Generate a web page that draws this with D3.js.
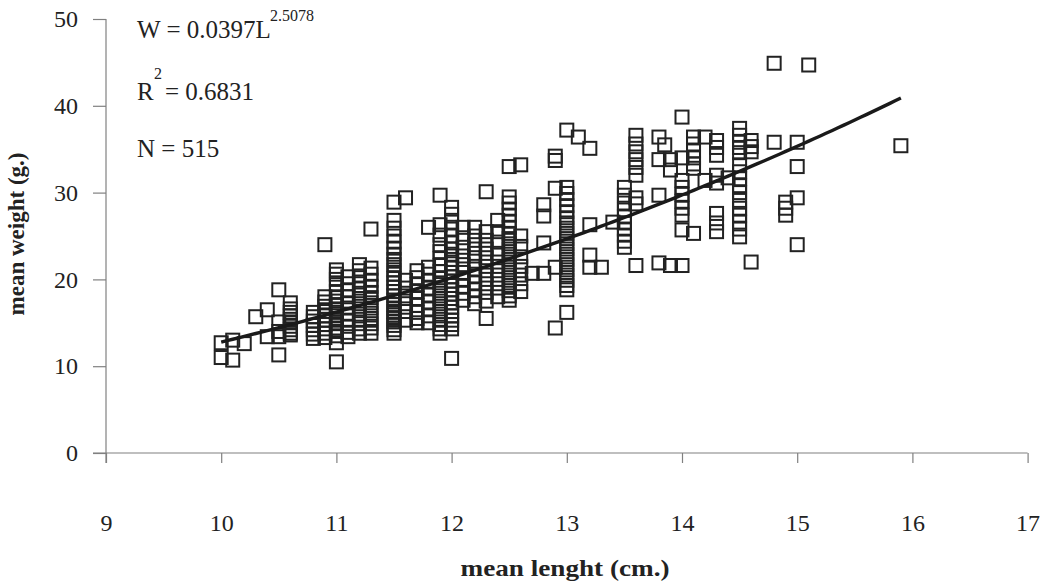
<!DOCTYPE html>
<html><head><meta charset="utf-8">
<script src="https://cdn.jsdelivr.net/npm/d3@7"></script>
<style>body{margin:0;background:#fff}svg{display:block}</style>
</head><body>
<svg id="c" width="1044" height="583"></svg>
<script>
// ---- data ----
const xTicks = [9,10,11,12,13,14,15,16,17];
const yTicks = [0,10,20,30,40,50];
const xTitle = "mean lenght (cm.)";
const yTitle = "mean weight (g.)";
const fitA = 0.0397, fitB = 2.5078, fitR2 = "0.6831", fitN = "515";
const fitRange = [10.0, 15.9];
const lengths = [10.0,10.1,10.2,10.3,10.4,10.5,10.6,10.8,10.9,11.0,11.1,11.2,11.3,11.5,11.6,11.7,11.8,11.9,12.0,12.1,12.2,12.3,12.4,12.5,12.6,12.7,12.8,12.9,13.0,13.1,13.2,13.3,13.4,13.5,13.6,13.8,13.85,13.9,14.0,14.1,14.2,14.3,14.4,14.5,14.6,14.8,14.9,15.0,15.1,15.9];
const weights = [
 [12.7,11.0],
 [13.0,10.7],
 [12.6],
 [15.7],
 [16.5,13.4],
 [18.8,15.1,14.0,13.4,11.3],
 [17.3,16.6,16.2,15.8,15.4,15.0,14.6,14.2,13.8,13.6],
 [16.2,15.7,15.2,14.7,14.2,13.7,13.2],
 [24.0,18.0,17.4,16.9,16.3,15.8,15.3,14.8,14.3,13.8,13.3],
 [21.1,20.6,20.0,19.4,18.6,18.0,17.5,17.0,16.6,16.2,15.8,15.3,14.9,14.4,14.0,13.5,12.7,10.5],
 [20.3,19.5,18.7,18.0,17.3,16.7,16.0,15.3,14.6,13.9,13.4],
 [21.7,21.0,20.4,19.7,19.0,18.4,17.8,17.2,16.6,16.0,15.4,14.9,14.3,13.8],
 [25.8,21.3,20.6,19.9,19.2,18.5,17.9,17.3,16.7,16.1,15.5,14.9,14.4,13.8],
 [28.9,26.8,25.9,25.0,24.3,23.6,22.9,22.3,21.7,21.1,20.6,20.1,19.6,19.1,18.6,18.1,17.6,17.1,16.7,16.3,15.9,15.5,15.1,14.7,14.2,13.8],
 [29.4,19.9,19.0,18.1,17.2,16.3,15.3],
 [21.0,20.2,19.4,18.6,17.8,17.0,16.2,15.5,15.0],
 [26.0,21.4,20.6,19.8,19.0,18.2,17.4,16.6,15.8,15.0],
 [29.7,26.3,25.1,24.0,23.2,22.4,21.6,20.9,20.2,19.6,19.0,18.4,17.8,17.2,16.6,16.0,15.4,14.8,14.3,13.8],
 [28.3,27.5,26.6,25.8,25.0,24.2,23.5,22.9,22.3,21.8,21.3,20.8,20.3,19.8,19.3,18.8,18.3,17.8,17.3,16.8,16.3,15.8,15.3,14.8,14.3,10.9],
 [26.0,24.8,23.7,22.7,21.7,20.8,20.0,19.2,18.4,17.6],
 [26.0,25.0,24.0,23.0,22.1,21.2,20.4,19.6,18.8,18.0,17.2],
 [30.1,25.5,24.5,23.5,22.5,21.5,20.5,19.5,18.5,17.5,15.5],
 [26.8,25.5,24.3,23.0,22.0,21.0,20.0,19.0,18.0],
 [33.0,29.5,28.8,28.1,27.4,26.7,26.0,25.3,24.7,24.1,23.5,22.9,22.3,21.7,21.1,20.5,19.9,19.3,18.7,18.1,17.6],
 [33.2,25.0,23.8,22.6,21.5,20.5,19.5,18.6],
 [20.7],
 [28.6,27.3,24.2,20.7],
 [34.2,33.7,30.5,21.4,14.4],
 [37.2,30.6,29.9,29.2,28.5,27.8,27.1,26.5,25.9,25.3,24.7,24.1,23.5,22.9,22.3,21.7,21.1,20.5,19.9,19.3,18.8,16.2],
 [36.4],
 [35.1,26.3,22.8,21.4],
 [21.4],
 [26.6],
 [30.6,29.7,28.8,28.0,27.2,26.5,25.8,25.1,24.4,23.7],
 [36.6,35.6,34.7,33.8,32.9,32.0,29.4,28.7,21.6],
 [36.4,33.8,29.7,21.9],
 [35.5],
 [33.8,32.6,21.6],
 [38.7,34.0,31.4,30.6,29.8,29.0,28.2,27.4,25.7,21.6],
 [36.4,35.6,34.8,34.0,33.3,32.8,25.3],
 [36.4,31.4],
 [36.0,35.2,34.3,32.0,31.1,27.6,26.5,25.5],
 [31.7],
 [37.4,36.6,35.8,35.2,34.6,33.2,32.4,31.6,30.8,30.0,29.1,28.2,27.4,26.6,25.8,24.9],
 [36.0,35.3,34.7,22.0],
 [35.8,44.9],
 [28.9,28.2,27.4],
 [35.8,33.0,29.4,24.0],
 [44.7],
 [35.4]
];

// ---- drawing ----
const svg = d3.select("#c");
const font = "'Liberation Serif','Times New Roman',serif";
const x = d3.scaleLinear().domain([9,17]).range([106, 1027.6]);
const y = d3.scaleLinear().domain([0,50]).range([453, 19]);
const axisCol = "#808080", txtCol = "#222";

const pts = [];
lengths.forEach((L,i)=>weights[i].forEach(w=>pts.push({L,w})));

// axes
const gy = svg.append("g").attr("transform","translate(106,0)")
  .call(d3.axisLeft(y).tickValues(yTicks).tickSize(13).tickSizeOuter(0).tickPadding(15));
const gx = svg.append("g").attr("transform","translate(0,453)")
  .call(d3.axisBottom(x).tickValues(xTicks).tickSize(10).tickSizeOuter(0).tickPadding(51));
[gx,gy].forEach(g=>{
  g.select(".domain").remove();
  g.selectAll(".tick line").attr("stroke",axisCol).attr("stroke-width",1.2);
  g.selectAll(".tick text").attr("font-family",font).attr("font-size",24).attr("fill",txtCol);
});
svg.append("line").attr("x1",106).attr("x2",106).attr("y1",y(50)).attr("y2",463)
  .attr("stroke",axisCol).attr("stroke-width",1.2);
svg.append("line").attr("x1",93).attr("x2",x(17)).attr("y1",453).attr("y2",453)
  .attr("stroke",axisCol).attr("stroke-width",1.2);

// points
svg.append("g").selectAll("rect").data(pts).join("rect")
  .attr("x",d=>x(d.L)-6.5).attr("y",d=>y(d.w)-6.5)
  .attr("width",13).attr("height",13)
  .attr("fill","none").attr("stroke","#222").attr("stroke-width",2);

// fitted curve from the displayed equation
const curve = d3.range(fitRange[0], fitRange[1]+0.001, 0.05).map(L=>[L, fitA*Math.pow(L,fitB)]);
svg.append("path").datum(curve)
  .attr("d", d3.line().x(d=>x(d[0])).y(d=>y(d[1])))
  .attr("fill","none").attr("stroke","#1a1a1a").attr("stroke-width",3.4);

// annotations
const ann = svg.append("g").attr("font-family",font).attr("fill",txtCol);
ann.append("text").attr("x",137).attr("y",38).attr("font-size",25).text("W = " + fitA + "L");
ann.append("text").attr("x",270).attr("y",21).attr("font-size",16).text(fitB.toFixed(4));
ann.append("text").attr("x",137).attr("y",100).attr("font-size",25).text("R");
ann.append("text").attr("x",154).attr("y",79).attr("font-size",16).text("2");
ann.append("text").attr("x",165).attr("y",100).attr("font-size",25).text("= " + fitR2);
ann.append("text").attr("x",137).attr("y",157).attr("font-size",25).text("N = " + fitN);

// titles
svg.append("text").attr("x",565).attr("y",576).attr("text-anchor","middle")
  .attr("font-family",font).attr("font-weight","bold").attr("font-size",24)
  .attr("textLength",209).attr("lengthAdjust","spacingAndGlyphs").attr("fill",txtCol).text(xTitle);
svg.append("text").attr("transform","translate(24,234) rotate(-90)").attr("text-anchor","middle")
  .attr("font-family",font).attr("font-weight","bold").attr("font-size",23).attr("fill",txtCol).text(yTitle);
</script>
</body></html>
